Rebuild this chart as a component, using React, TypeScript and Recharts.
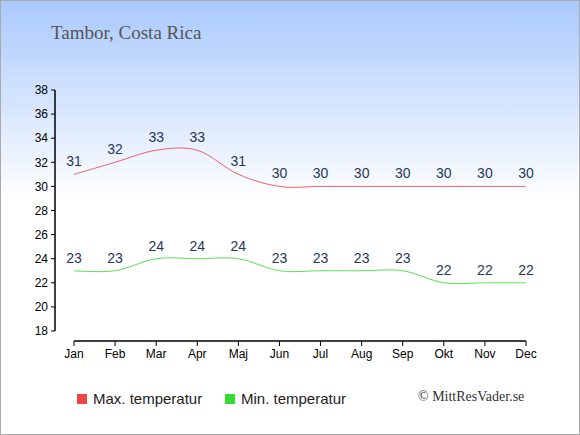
import React from "react";
import { LineChart, Line, XAxis, YAxis, LabelList } from "recharts";

const months = ["Jan", "Feb", "Mar", "Apr", "Maj", "Jun", "Jul", "Aug", "Sep", "Okt", "Nov", "Dec"];
const maxTemp = [31, 32, 33, 33, 31, 30, 30, 30, 30, 30, 30, 30];
const minTemp = [23, 23, 24, 24, 24, 23, 23, 23, 23, 22, 22, 22];
const yTicks = [18, 20, 22, 24, 26, 28, 30, 32, 34, 36, 38];
const seriesNames = ["Max. temperatur", "Min. temperatur"];
const seriesColors = ["#ee4444", "#33dd33"];
const lineColors = ["#f06060", "#55e055"];
const title = "Tambor, Costa Rica";
const credit = "© MittResVader.se";

const data = months.map((m, i) => ({ month: m, max: maxTemp[i], min: minTemp[i] }));

// Cardinal (Catmull-Rom style) curve factory, tension 0
const cardinal = (context: any) => {
  const k = 1 / 6;
  let x0 = NaN, x1 = NaN, x2 = NaN, y0 = NaN, y1 = NaN, y2 = NaN, pt = 0;
  const seg = (x: number, y: number) => {
    context.bezierCurveTo(
      x1 + k * (x2 - x0),
      y1 + k * (y2 - y0),
      x2 + k * (x1 - x),
      y2 + k * (y1 - y),
      x2,
      y2
    );
  };
  return {
    areaStart() {},
    areaEnd() {},
    lineStart() {
      x0 = x1 = x2 = y0 = y1 = y2 = NaN;
      pt = 0;
    },
    lineEnd() {
      if (pt === 2) context.lineTo(x2, y2);
      else if (pt === 3) seg(x1, y1);
    },
    point(x: number, y: number) {
      x = +x;
      y = +y;
      if (pt === 0) {
        pt = 1;
        context.moveTo(x, y);
      } else if (pt === 1) {
        pt = 2;
        x1 = x;
        y1 = y;
      } else {
        if (pt === 2) pt = 3;
        seg(x, y);
      }
      x0 = x1; x1 = x2; x2 = x;
      y0 = y1; y1 = y2; y2 = y;
    },
  };
};

export default function App() {
  return (
    <div
      style={{
        position: "absolute",
        left: 0,
        top: 0,
        width: 580,
        height: 435,
        boxSizing: "border-box",
        border: "1px solid #aaaaaa",
        background: "linear-gradient(to bottom, #a9c9fd 0%, #ffffff 46%, #ffffff 100%)",
        overflow: "hidden",
        fontFamily: "'Liberation Sans', Arial, sans-serif",
      }}
    >
      <style>{`.recharts-yAxis{transform:translateX(-19px)} .recharts-xAxis{transform:translateY(10px)}`}</style>
      <div
        style={{
          position: "absolute",
          left: 50,
          top: 21,
          fontFamily: "'Liberation Serif', 'Times New Roman', serif",
          fontSize: 19,
          color: "#555555",
          whiteSpace: "nowrap",
        }}
      >
        {title}
      </div>
      <div style={{ position: "absolute", left: -1, top: -1 }}>
        <LineChart width={580} height={435} data={data} margin={{ top: 90, right: 54, bottom: 74, left: 14 }}>
          <XAxis
            dataKey="month"
            interval={0}
            height={30}
            tick={{ fill: "#000", fontSize: 12, dy: 10 }}
            tickLine={{ stroke: "#000" }}
            axisLine={{ stroke: "#000", strokeWidth: 1.5 }}
            tickSize={5}
            tickMargin={3}
          />
          <YAxis
            domain={[18, 38]}
            ticks={yTicks}
            interval={0}
            width={60}
            tick={{ fill: "#000", fontSize: 12, dx: -19 }}
            tickLine={{ stroke: "#000" }}
            axisLine={{ stroke: "#000", strokeWidth: 1.5 }}
            tickSize={4}
            tickMargin={3}
            allowDataOverflow
          />
          <Line
            dataKey="max"
            type={cardinal as any}
            stroke={lineColors[0]}
            strokeWidth={1}
            dot={false}
            activeDot={false}
            isAnimationActive={false}
          >
            <LabelList dataKey="max" position="top" offset={8} fill="#26375a" fontSize={14} />
          </Line>
          <Line
            dataKey="min"
            type={cardinal as any}
            stroke={lineColors[1]}
            strokeWidth={1}
            dot={false}
            activeDot={false}
            isAnimationActive={false}
          >
            <LabelList dataKey="min" position="top" offset={8} fill="#26375a" fontSize={14} />
          </Line>
        </LineChart>
      </div>
      {seriesNames.map((name, i) => (
        <div
          key={name}
          style={{
            position: "absolute",
            left: i === 0 ? 76 : 224,
            top: 389,
            display: "flex",
            alignItems: "center",
            fontSize: 15,
            color: "#222",
            whiteSpace: "nowrap",
          }}
        >
          <span
            style={{
              display: "inline-block",
              width: 10,
              height: 10,
              background: seriesColors[i],
              marginRight: 6,
            }}
          />
          {name}
        </div>
      ))}
      <div
        style={{
          position: "absolute",
          left: 417,
          top: 388,
          fontFamily: "'Liberation Serif', 'Times New Roman', serif",
          fontSize: 14,
          color: "#333",
          whiteSpace: "nowrap",
        }}
      >
        {credit}
      </div>
    </div>
  );
}
